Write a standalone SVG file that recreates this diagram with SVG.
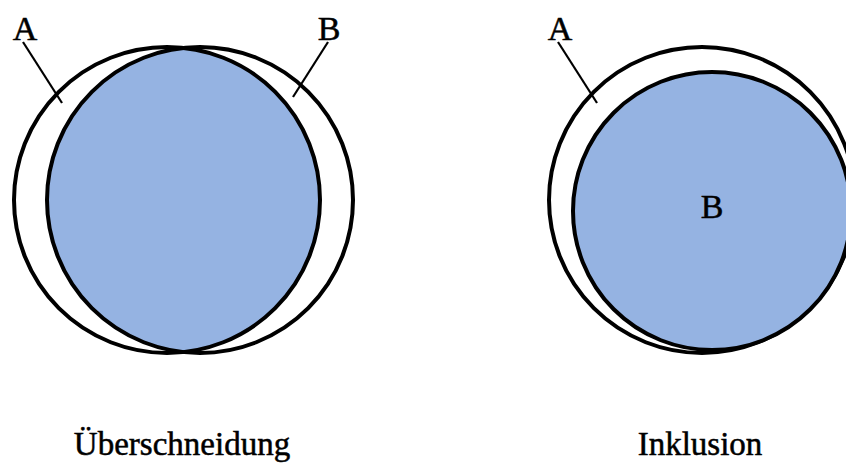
<svg xmlns="http://www.w3.org/2000/svg" width="846" height="464" viewBox="0 0 846 464">
<style>
.ring{fill:none;stroke:#000;stroke-width:4}
.disk{fill:#95B3E2;stroke:#000;stroke-width:4}
.lead{stroke:#000;stroke-width:2.2;fill:none}
.lbl{font-family:"Liberation Serif","Times New Roman",serif;font-size:34px;fill:#000;stroke:#000;stroke-width:0.5;text-anchor:middle}
.cap{font-family:"Liberation Serif","Times New Roman",serif;font-size:33px;fill:#000;stroke:#000;stroke-width:0.5;text-anchor:middle}
</style>
<defs>
<clipPath id="clipA"><circle cx="167" cy="200" r="153"/></clipPath>
</defs>
<rect width="846" height="464" fill="#fff"/>
<g id="intersection">
<circle cx="200" cy="200" r="153" fill="#95B3E2" clip-path="url(#clipA)"/>
<circle id="left-A" class="ring" cx="167" cy="200" r="153"/>
<circle id="left-B" class="ring" cx="200" cy="200" r="153"/>
<text class="lbl" x="25" y="40">A</text>
<text class="lbl" x="329" y="40">B</text>
<text class="cap" x="182" y="455">Überschneidung</text>
</g>
<g id="inclusion">
<circle id="right-A" class="ring" cx="702" cy="200" r="153"/>
<circle id="right-B" class="disk" cx="712" cy="211" r="139"/>
<text class="lbl" x="560" y="40">A</text>
<text class="lbl" x="712" y="218">B</text>
<text class="cap" x="700" y="455">Inklusion</text>
</g>
<g id="connectors">
<line class="lead" x1="23" y1="42" x2="62" y2="103"/>
<line class="lead" x1="328" y1="42" x2="293" y2="97"/>
<line class="lead" x1="558" y1="42" x2="597" y2="103"/>
</g>
</svg>
